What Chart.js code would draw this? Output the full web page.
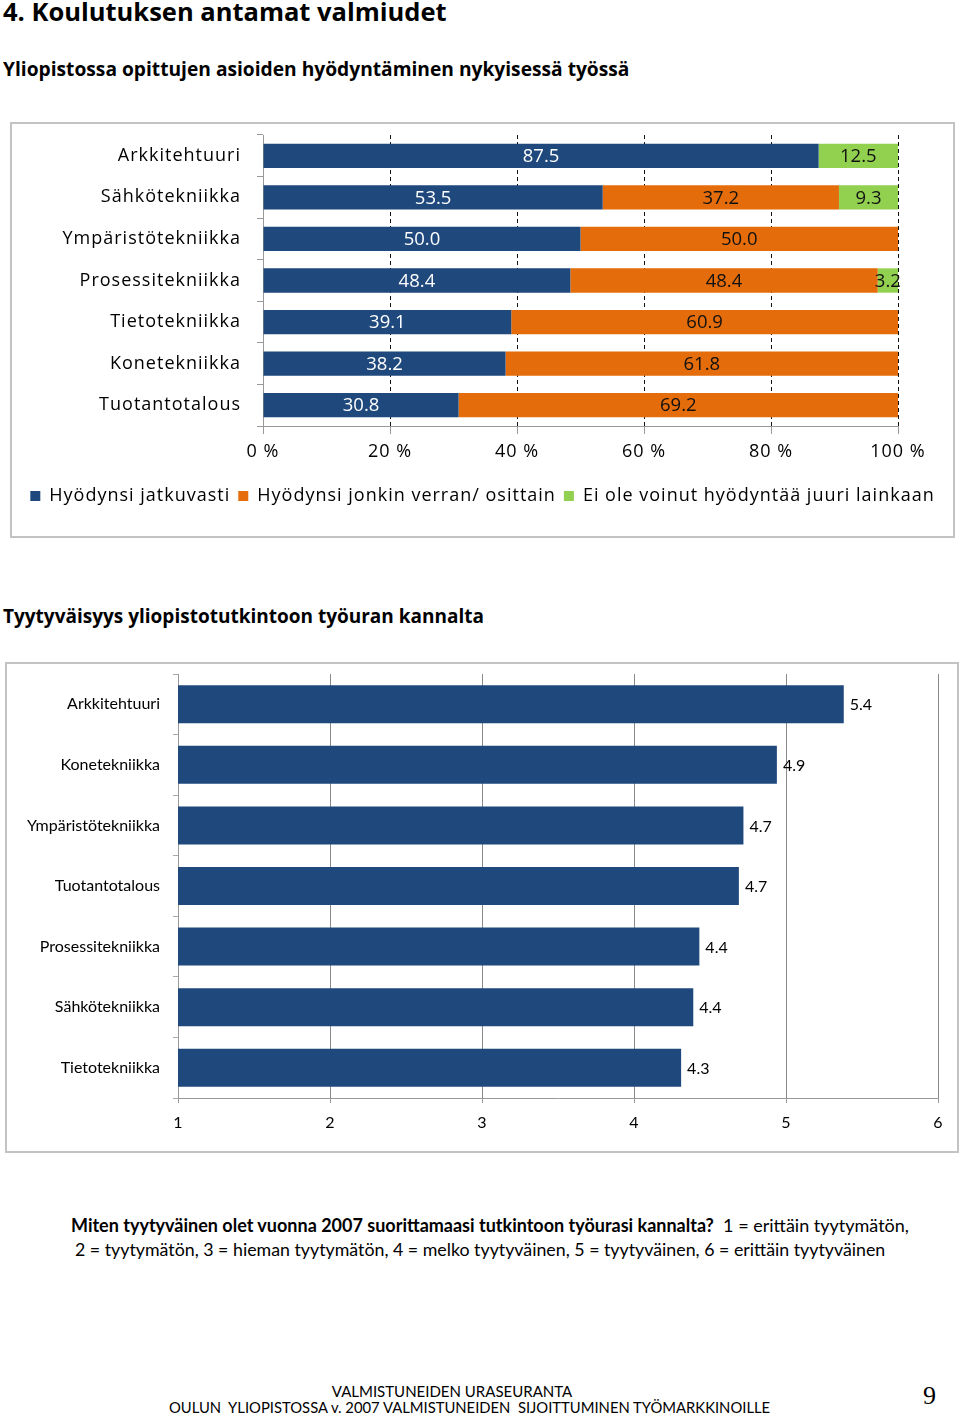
<!DOCTYPE html>
<html lang="fi">
<head>
<meta charset="utf-8">
<script src="https://cdn.jsdelivr.net/npm/chart.js@4.4.1/dist/chart.umd.min.js"></script>
<style>
  html, body { margin: 0; padding: 0; background: #fff; }
  body { width: 960px; height: 1418px; position: relative; overflow: hidden; font-family: Lato, "Open Sans", sans-serif; color: #000; }
  .t { position: absolute; white-space: nowrap; }
  .h { font-family: "Open Sans", sans-serif; font-weight: 700; }
  .box { position: absolute; border: 2px solid #c3c3c3; box-sizing: border-box; }
  canvas { position: absolute; left: 0; top: 0; }
</style>
</head>
<body>
<div class="t h" style="left:3px; top:-6px; font-size:25.5px; line-height:34px;">4. Koulutuksen antamat valmiudet</div>
<div class="t h" style="left:3px; top:55px; font-size:19.2px; line-height:27px;">Yliopistossa opittujen asioiden hyödyntäminen nykyisessä työssä</div>

<div class="box" style="left:10px; top:122px; width:945px; height:416px;">
  <canvas id="c1" width="941" height="412" style="width:941px;height:412px;"></canvas>
</div>

<div class="t h" style="left:3px; top:603px; font-size:19px; line-height:27px;">Tyytyväisyys yliopistotutkintoon työuran kannalta</div>

<div class="box" style="left:5px; top:662px; width:954px; height:491px;">
  <canvas id="c2" width="950" height="487" style="width:950px;height:487px;"></canvas>
</div>

<div class="t" style="left:71px; top:1214px; font-size:18px; line-height:22px;"><b>Miten tyytyväinen olet vuonna 2007 suorittamaasi tutkintoon työurasi kannalta?</b>&nbsp; 1 = erittäin tyytymätön,</div>
<div class="t" style="left:75px; top:1238px; font-size:17.8px; line-height:22px;">2 = tyytymätön, 3 = hieman tyytymätön, 4 = melko tyytyväinen, 5 = tyytyväinen, 6 = erittäin tyytyväinen</div>

<div class="t" style="left:252px; width:400px; text-align:center; top:1382px; font-size:15px; line-height:18px;">VALMISTUNEIDEN URASEURANTA</div>
<div class="t" style="left:169px; width:600px; text-align:center; top:1398px; font-size:14.8px; line-height:18px;">OULUN&nbsp; YLIOPISTOSSA v. 2007 VALMISTUNEIDEN&nbsp; SIJOITTUMINEN TYÖMARKKINOILLE</div>
<div class="t" style="left:923px; top:1383px; font-size:26px; line-height:26px; font-family:'Liberation Serif', serif;">9</div>

<script>
// ---------- Data: chart 1 ----------
const categories1 = ['Arkkitehtuuri', 'Sähkötekniikka', 'Ympäristötekniikka', 'Prosessitekniikka', 'Tietotekniikka', 'Konetekniikka', 'Tuotantotalous'];
const seriesNames1 = ['Hyödynsi jatkuvasti', 'Hyödynsi jonkin verran/ osittain', 'Ei ole voinut hyödyntää juuri lainkaan'];
const jatkuvasti = [87.5, 53.5, 50.0, 48.4, 39.1, 38.2, 30.8];
const jonkinVerran = [null, 37.2, 50.0, 48.4, 60.9, 61.8, 69.2];
const eiOleVoinut = [12.5, 9.3, null, 3.2, null, null, null];
const percentTicks = [0, 20, 40, 60, 80, 100];

// ---------- Data: chart 2 ----------
const categories2 = ['Arkkitehtuuri', 'Konetekniikka', 'Ympäristötekniikka', 'Tuotantotalous', 'Prosessitekniikka', 'Sähkötekniikka', 'Tietotekniikka'];
const tyytyvaisyys = [5.38, 4.94, 4.72, 4.69, 4.43, 4.39, 4.31];
const scaleTicks = [1, 2, 3, 4, 5, 6];

const BLUE = '#1f497d', ORANGE = '#e46c0a', GREEN = '#92d050';
const labelColors1 = ['#ffffff', '#111111', '#111111'];

function noPad(s) { s.paddingTop = 0; s.paddingBottom = 0; s.paddingLeft = 0; s.paddingRight = 0; }

const spacingPlugin = {
  id: 'spacing',
  beforeLayout(chart) { chart.ctx.letterSpacing = '1px'; },
  beforeDraw(chart) { chart.ctx.letterSpacing = '1px'; }
};

const segLabels = {
  id: 'segLabels',
  afterDatasetsDraw(chart) {
    const ctx = chart.ctx;
    ctx.save();
    ctx.letterSpacing = '0px';
    ctx.font = '18.5px "Open Sans"';
    ctx.textAlign = 'center';
    ctx.textBaseline = 'middle';
    chart.data.datasets.forEach((ds, i) => {
      const meta = chart.getDatasetMeta(i);
      meta.data.forEach((bar, j) => {
        const v = ds.data[j];
        if (v == null) return;
        ctx.fillStyle = labelColors1[i];
        ctx.fillText(v.toFixed(1), (bar.x + bar.base) / 2, bar.y + 1);
      });
    });
    ctx.restore();
  }
};

new Chart(document.getElementById('c1'), {
  type: 'bar',
  data: {
    labels: categories1,
    datasets: [
      { label: seriesNames1[0], data: jatkuvasti, backgroundColor: BLUE },
      { label: seriesNames1[1], data: jonkinVerran, backgroundColor: ORANGE },
      { label: seriesNames1[2], data: eiOleVoinut, backgroundColor: GREEN }
    ]
  },
  options: {
    indexAxis: 'y',
    responsive: false,
    devicePixelRatio: 1,
    animation: false,
    datasets: { bar: { barPercentage: 0.585, categoryPercentage: 1, borderWidth: 0 } },
    layout: { padding: { top: 11, right: 0, bottom: 21, left: 0 } },
    plugins: {
      tooltip: { enabled: false },
      legend: {
        position: 'bottom',
        labels: {
          boxWidth: 10, boxHeight: 10, padding: 8, color: '#000',
          font: { family: 'Open Sans', size: 18 }
        }
      }
    },
    scales: {
      x: {
        stacked: true, min: 0, max: 100,
        afterBuildTicks(s) { s.ticks = percentTicks.map(v => ({ value: v })); },
        afterFit(s) { s.height = 53; noPad(s); },
        ticks: { color: '#000', padding: 7, font: { family: 'Open Sans', size: 18 }, callback: v => v + ' %' },
        grid: {
          color: c => (c.tick && c.tick.value === 0) ? 'rgba(0,0,0,0)' : '#111',
          lineWidth: 1, tickLength: 8, tickColor: '#999'
        },
        border: { display: true, color: '#999', width: 1, dash: [4, 3] }
      },
      y: {
        stacked: true,
        afterFit(s) { s.width = 251; noPad(s); },
        ticks: { color: '#000', padding: 16, font: { family: 'Open Sans', size: 18 } },
        grid: { drawOnChartArea: false, offset: true, tickLength: 6, color: '#999' },
        border: { display: true, color: '#999', width: 1 }
      },
      yR: {
        type: 'category', axis: 'y', position: 'right', display: true,
        afterFit(s) { s.width = 55; noPad(s); },
        ticks: { display: false },
        grid: { display: false, drawTicks: false },
        border: { display: false }
      }
    }
  },
  plugins: [spacingPlugin, segLabels]
});

const endLabels = {
  id: 'endLabels',
  afterDatasetsDraw(chart) {
    const ctx = chart.ctx;
    ctx.save();
    ctx.font = '16px Lato';
    ctx.fillStyle = '#000';
    ctx.textAlign = 'left';
    ctx.textBaseline = 'middle';
    chart.data.datasets.forEach((ds, i) => {
      chart.getDatasetMeta(i).data.forEach((bar, j) => {
        ctx.fillText(ds.data[j].toFixed(1), bar.x + 6, bar.y + 1);
      });
    });
    ctx.restore();
  }
};

new Chart(document.getElementById('c2'), {
  type: 'bar',
  data: {
    labels: categories2,
    datasets: [{ label: 'Tyytyväisyys', data: tyytyvaisyys, backgroundColor: BLUE }]
  },
  options: {
    indexAxis: 'y',
    responsive: false,
    devicePixelRatio: 1,
    animation: false,
    datasets: { bar: { barPercentage: 0.627, categoryPercentage: 1, borderWidth: 0 } },
    layout: { padding: { top: 10, right: 19, bottom: 0, left: 0 } },
    plugins: { legend: { display: false }, tooltip: { enabled: false } },
    scales: {
      x: {
        min: 1, max: 6,
        afterBuildTicks(s) { s.ticks = scaleTicks.map(v => ({ value: v })); },
        afterFit(s) { s.height = 53; noPad(s); },
        ticks: { color: '#000', padding: 10, font: { family: 'Lato', size: 16 } },
        grid: { color: '#8a8a8a', lineWidth: 1, tickLength: 5, tickColor: '#999' },
        border: { display: true, color: '#999', width: 1 }
      },
      y: {
        afterFit(s) { s.width = 171; noPad(s); },
        ticks: { color: '#000', padding: 13, font: { family: 'Lato', size: 16 } },
        grid: { drawOnChartArea: false, offset: true, tickLength: 5, color: '#aaa' },
        border: { display: true, color: '#999', width: 1 }
      }
    }
  },
  plugins: [endLabels]
});
</script>
</body>
</html>
